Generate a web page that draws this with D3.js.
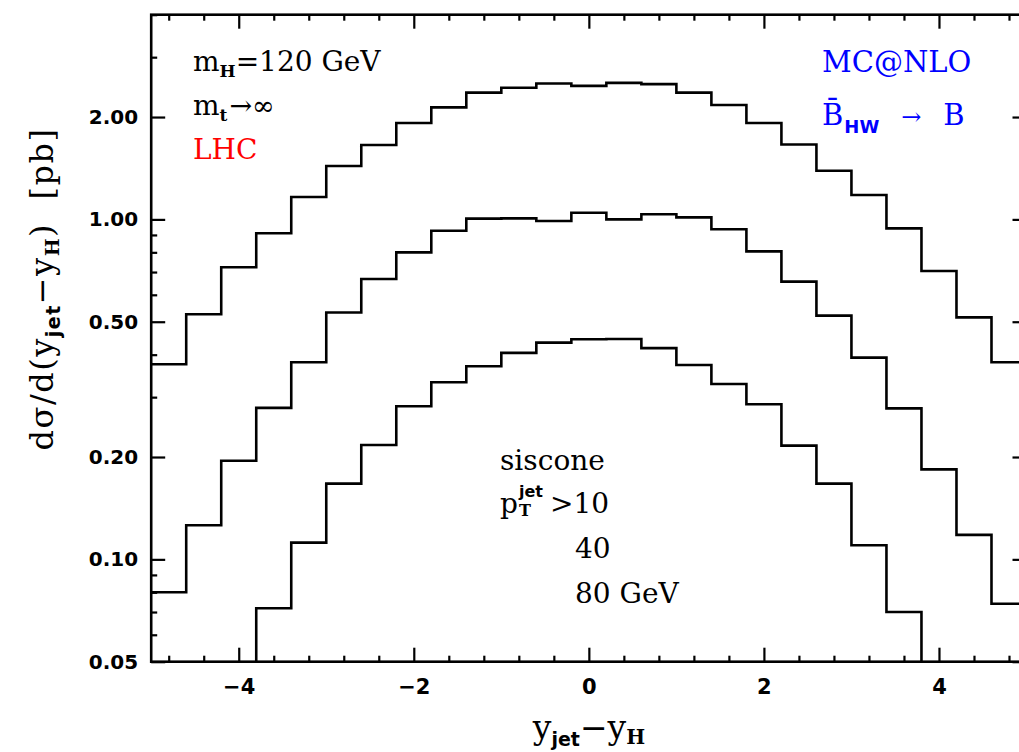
<!DOCTYPE html>
<html>
<head>
<meta charset="utf-8">
<script src="https://cdn.jsdelivr.net/npm/d3@7"></script>
<style>
body { margin: 0; background: #fff; }
svg { display: block; }
.serif { font-family: "DejaVu Serif", serif; }
</style>
</head>
<body>
<div id="plot"></div>
<script>
// bin edges of y_jet - y_H (25 bins)
var binEdges = [-5, -4.6, -4.2, -3.8, -3.4, -3, -2.6, -2.2, -1.8, -1.4, -1, -0.6, -0.2,
                0.2, 0.6, 1, 1.4, 1.8, 2.2, 2.6, 3, 3.4, 3.8, 4.2, 4.6, 5];

// dsigma/d(y_jet - y_H) [pb] for pT^jet > 10, 40, 80 GeV
var pt10 = [0.375, 0.526, 0.723, 0.91, 1.164, 1.435, 1.655, 1.92, 2.135, 2.36, 2.44, 2.51, 2.47,
            2.52, 2.50, 2.36, 2.17, 1.92, 1.66, 1.39, 1.18, 0.941, 0.705, 0.515, 0.380];
var pt40 = [0.080, 0.126, 0.195, 0.279, 0.380, 0.532, 0.668, 0.80, 0.926, 1.005, 1.007, 0.989, 1.046,
            1.0, 1.035, 1.014, 0.935, 0.805, 0.656, 0.521, 0.392, 0.278, 0.184, 0.118, 0.074];
var pt80 = [0.030, 0.038, 0.046, 0.0718, 0.112, 0.167, 0.217, 0.282, 0.332, 0.370, 0.405, 0.434, 0.444,
            0.445, 0.418, 0.373, 0.328, 0.286, 0.216, 0.167, 0.110, 0.070, 0.045, 0.036, 0.028];

var xMajorTicks = [-4, -2, 0, 2, 4];
var xMinorTicks = [-4.8, -4.4, -3.6, -3.2, -2.8, -2.4, -1.6, -1.2, -0.8, -0.4, 0.4, 0.8, 1.2, 1.6,
                   2.4, 2.8, 3.2, 3.6, 4.4, 4.8];
var yMajorTicks = [0.05, 0.1, 0.2, 0.5, 1, 2];
var yMinorTicks = [0.06, 0.07, 0.08, 0.09, 0.3, 0.4, 0.6, 0.7, 0.8, 0.9, 3, 4];

var width = 1019, height = 752;
var frame = { l: 151.2, r: 1026.5, t: 14.7, b: 661.7 };

var svg = d3.select("#plot").append("svg")
    .attr("width", width)
    .attr("height", height);

var x = d3.scaleLinear().domain([-5, 5]).range([frame.l, frame.r]);
var y = d3.scaleLog().domain([0.05, 4]).range([frame.b, frame.t]);

svg.append("clipPath").attr("id", "clip")
  .append("rect")
    .attr("x", frame.l).attr("y", frame.t)
    .attr("width", frame.r - frame.l).attr("height", frame.b - frame.t);

// histograms
var line = d3.line()
    .x(function(d) { return x(d[0]); })
    .y(function(d) { return y(d[1]); })
    .curve(d3.curveStepAfter);

[pt10, pt40, pt80].forEach(function(vals) {
    var pts = vals.map(function(v, i) { return [binEdges[i], v]; });
    pts.push([binEdges[binEdges.length - 1], vals[vals.length - 1]]);
    svg.append("path")
        .attr("clip-path", "url(#clip)")
        .attr("d", line(pts))
        .attr("fill", "none")
        .attr("stroke", "#000")
        .attr("stroke-width", 2.6);
});

// axes, ticks pointing inwards on all four sides
function minus(d) { return d < 0 ? "\u2212" + Math.abs(d) : d; }

function addAxis(axis, tx, ty, fs) {
    var g = svg.append("g")
        .attr("transform", "translate(" + tx + "," + ty + ")")
        .call(axis);
    g.select(".domain").remove();
    g.selectAll(".tick line").attr("stroke", "#000").attr("stroke-width", 2.2);
    g.selectAll(".tick text")
        .attr("fill", "#000")
        .style("font-family", '"DejaVu Sans", sans-serif')
        .style("font-weight", "bold")
        .style("font-size", (fs || 20) + "px");
    return g;
}

addAxis(d3.axisBottom(x).tickValues(xMajorTicks).tickSize(-14).tickPadding(17).tickFormat(minus), 0, frame.b, 21);
addAxis(d3.axisBottom(x).tickValues(xMinorTicks).tickSize(-6).tickFormat(""), 0, frame.b);
addAxis(d3.axisTop(x).tickValues(xMajorTicks).tickSize(-14).tickFormat(""), 0, frame.t);
addAxis(d3.axisTop(x).tickValues(xMinorTicks).tickSize(-6).tickFormat(""), 0, frame.t);
addAxis(d3.axisLeft(y).tickValues(yMajorTicks).tickSize(-14).tickPadding(13).tickFormat(d3.format(".2f")), frame.l, 0);
addAxis(d3.axisLeft(y).tickValues(yMinorTicks).tickSize(-6).tickFormat(""), frame.l, 0);
addAxis(d3.axisRight(y).tickValues(yMajorTicks).tickSize(-14).tickFormat(""), frame.r, 0);
addAxis(d3.axisRight(y).tickValues(yMinorTicks).tickSize(-6).tickFormat(""), frame.r, 0);

svg.append("rect")
    .attr("x", frame.l).attr("y", frame.t)
    .attr("width", frame.r - frame.l).attr("height", frame.b - frame.t)
    .attr("fill", "none")
    .attr("stroke", "#000")
    .attr("stroke-width", 2.6);

// text helper: parts = [text, size, dy, font, weight, dx]
function label(px, py, parts, color, anchor) {
    var t = svg.append("text")
        .attr("class", "serif")
        .attr("x", px).attr("y", py)
        .attr("fill", color || "#000")
        .attr("text-anchor", anchor || "start")
        .style("white-space", "pre");
    parts.forEach(function(p) {
        t.append("tspan")
            .attr("dy", p[2] || 0)
            .attr("dx", p[5] || 0)
            .style("font-size", p[1] + "px")
            .style("font-family", p[3] || null)
            .style("font-weight", p[4] || null)
            .text(p[0]);
    });
    return t;
}

var SANS = '"DejaVu Sans", sans-serif';

label(193, 71, [["m", 28], ["H", 17, 6, null, "bold"], ["=120 GeV", 28, -6]]);
label(193, 115, [["m", 28], ["t", 17, 6, null, "bold"], ["\u2192\u221e", 27, -6, null, null, 2]]);
label(193, 159, [["LHC", 28]], "#ff0000");

label(822, 72, [["MC@NLO", 29]], "#0000ff");
label(822, 125, [["B\u0304", 29], ["HW", 18, 8, SANS, "bold", 1], ["\u2192", 24, -8, null, null, 22], ["B", 29, 0, null, null, 22]], "#0000ff");

label(500, 470, [["siscone", 28]]);
label(500, 513, [["p", 28]]);
label(519, 497, [["jet", 16, 0, SANS, "bold"]]);
label(519, 516, [["T", 16, 0, null, "bold"]]);
label(550, 513, [[">10", 28]]);
label(575, 558, [["40", 28]]);
label(575, 603, [["80 GeV", 28]]);

// axis titles
label(589, 739, [["y", 33], ["jet", 19, 7, SANS, "bold"], ["\u2212", 33, -7], ["y", 33], ["H", 20, 5, null, "bold"]], "#000", "middle");

label(0, 0, [["d\u03c3/d(y", 32], ["jet", 19, 7, SANS, "bold"], ["\u2212", 32, -7], ["y", 32], ["H", 19, 6, null, "bold"], [")  [pb]", 32, -6]], "#000", "middle")
    .attr("letter-spacing", 1.5)
    .attr("transform", "translate(53,289) rotate(-90)");
</script>
</body>
</html>
